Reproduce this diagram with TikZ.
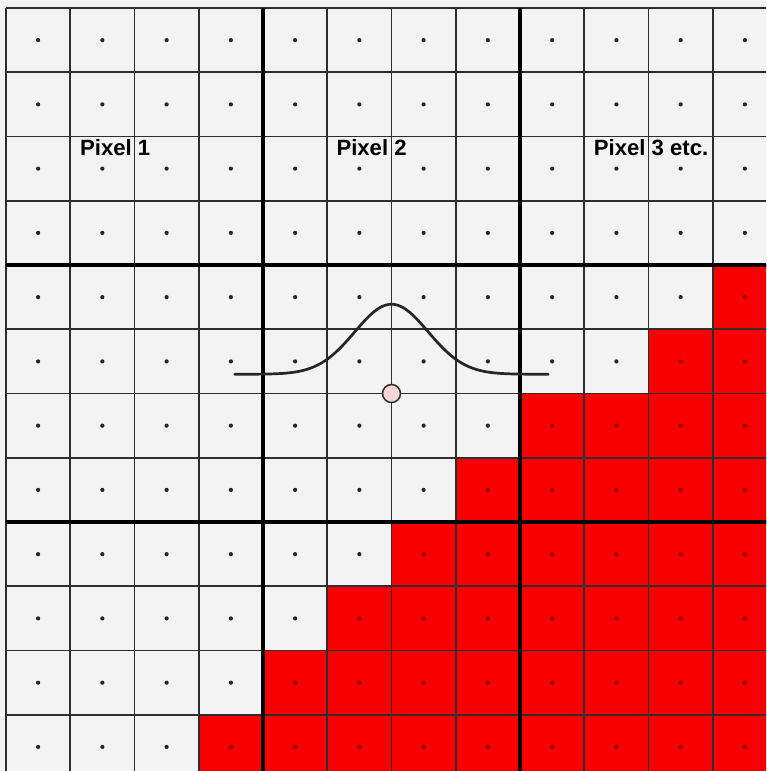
\documentclass[tikz,border=0pt]{standalone}
\usepackage{fontspec}
\setmainfont{Liberation Sans}
\usepackage{xcolor}
\usepackage{tikz}
\definecolor{cellgray}{HTML}{F3F3F3}
\definecolor{pixred}{HTML}{F80000}
\definecolor{dotred}{HTML}{8A0000}
\definecolor{gridgray}{HTML}{2E2E2E}
\definecolor{markpink}{HTML}{F9D5D5}
\tikzset{
  thinline/.style  = {draw=gridgray, line width=0.75pt},
  thickline/.style = {draw=black, line width=1.4pt},
  lbl/.style       = {font=\fontsize{9.8}{11}\selectfont\bfseries, inner sep=0pt},
  curve/.style     = {draw=black!85, line width=1.2pt, line cap=round},
}

\begin{document}
\begin{tikzpicture}[x=1cm, y=1cm]
  \useasboundingbox (-0.093,-11.875) rectangle (11.829,0.1245);
  \clip (-0.093,-11.875) rectangle (11.829,0.1245);
  \fill[cellgray] (-0.093,-11.875) rectangle (11.829,0.1245);

  % red cells, row / first red column
  \foreach \r/\c in {4/11,5/10,6/8,7/7,8/6,9/5,10/4,11/3}
    \fill[pixred] (\c,-\r) rectangle (12,-\r-1);

  % sample points
  \foreach \r/\c in {0/12,1/12,2/12,3/12,4/11,5/10,6/8,7/7,8/6,9/5,10/4,11/3} {
    \foreach \x in {0,...,11} {
      \ifnum\x<\c
        \fill[black!85] (\x+0.5,-\r-0.5) circle (0.033);
      \else
        \fill[dotred] (\x+0.5,-\r-0.5) circle (0.033);
      \fi
    }
  }

  % grid
  \foreach \i in {0,...,12} {
    \draw[thinline] (\i,0) -- (\i,-12);
    \draw[thinline] (0,-\i) -- (12,-\i);
  }
  \foreach \i in {4,8} {
    \draw[thickline] (\i,0) -- (\i,-12);
    \draw[thickline] (0,-\i) -- (12,-\i);
  }

  % labels
  \node[lbl] (pixone)   at (1.70,-2.18)  {Pixel 1};
  \node[lbl] (pixtwo)   at (5.69,-2.18)  {Pixel 2};
  \node[lbl] (pixthree) at (10.04,-2.18) {Pixel 3 etc.};

  % filter kernel
  \draw[curve, domain=3.56:8.44, samples=80, smooth]
    plot (\x, {-5.70 + 1.09*exp(-((\x-6)^2)/(2*0.57*0.57))});
  \draw[fill=markpink, draw=black!80, line width=0.7pt] (6,-6) circle (0.14);
\end{tikzpicture}
\end{document}
